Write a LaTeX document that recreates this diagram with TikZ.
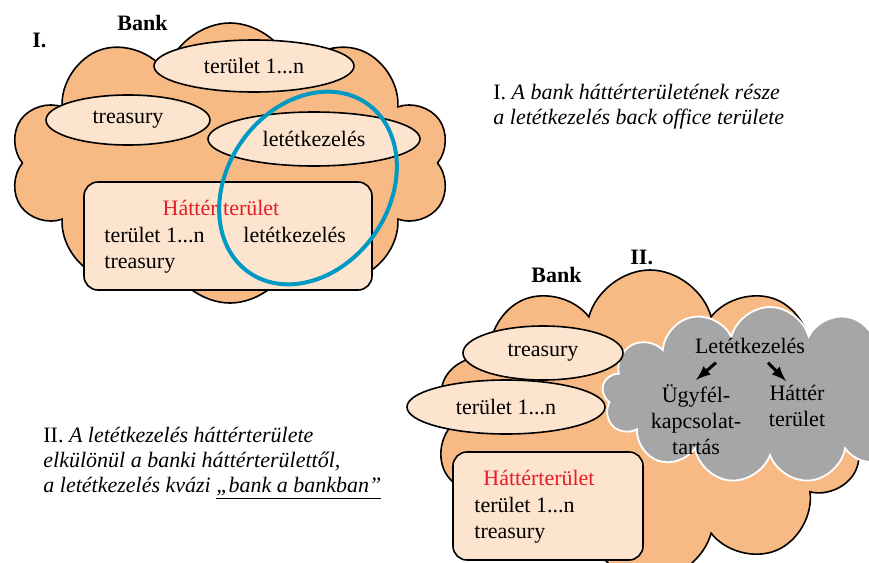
\documentclass[tikz,border=0pt]{standalone}
\usepackage{fontspec}
\setmainfont{Liberation Serif}
\usetikzlibrary{shapes.geometric, shapes.symbols, arrows}

\definecolor{bankorange}{RGB}{248,186,132}
\definecolor{areafill}{RGB}{252,228,206}
\definecolor{circleblue}{RGB}{0,153,196}
\definecolor{titlered}{RGB}{228,30,38}
\definecolor{depotgray}{RGB}{166,166,166}

\begin{document}
\begin{tikzpicture}[x=0.5pt, y=-0.5pt, font=\fontsize{11}{13}\selectfont,
    bankcloud/.style={cloud, cloud puffs=10, cloud ignores aspect, draw=black, line width=0.8pt, fill=bankorange},
    area/.style={ellipse, draw=black, line width=0.8pt, fill=areafill, inner sep=0pt},
    backbox/.style={rectangle, rounded corners=7pt, draw=black, line width=0.8pt, fill=areafill},
    txt/.style={inner sep=0pt, anchor=base west},
    heading/.style={inner sep=0pt, anchor=base west, font=\fontsize{11}{13}\selectfont\bfseries},
    note/.style={inner sep=0pt, anchor=north west, align=left, font=\fontsize{11}{12.5}\selectfont\itshape},
    pointer/.style={-latex, line width=1.5pt}]

        \useasboundingbox (0,0) rectangle (869,563);

        % I. bank
        \node (cloudI) [bankcloud, minimum width=220pt, minimum height=140pt] at (230,163) {};
        \node (unitsI) [area, minimum width=100pt, minimum height=26pt] at (254,66) {terület 1...n};
        \node (treasuryI) [area, minimum width=82pt, minimum height=25pt] at (128,120) {treasury};
        \node (depotI) [area, minimum width=106pt, minimum height=27pt] at (314,139) {letétkezelés};
        \node (backI) [backbox, minimum width=144pt, minimum height=54pt] at (228,236) {};
        \node (backtitleI) [txt, anchor=base, text=titlered] at (221,215) {Háttér terület};
        \node (backunitsI) [txt] at (104,242) {terület 1...n};
        \node (backdepotI) [txt] at (243,242) {letétkezelés};
        \node (backtreasuryI) [txt] at (104,268) {treasury};
        \node (focusI) [ellipse, draw=circleblue, line width=2pt, minimum width=81pt, minimum height=103pt, rotate=-35] at (308,188) {};
        \node (bankI) [heading] at (117,30) {Bank};
        \node (numI) [heading] at (32,47) {I.};

        % II. bank
        \node (cloudII) [bankcloud, minimum width=215pt, minimum height=155pt] at (650,425) {};
        \node (depotcloud) [cloud, cloud puffs=13, cloud ignores aspect, draw=white, line width=0.9pt, fill=depotgray, minimum width=168pt, minimum height=88pt] at (770,395) {};
        \node (treasuryII) [area, minimum width=80pt, minimum height=27pt] at (543,353) {treasury};
        \node (unitsII) [area, minimum width=99pt, minimum height=27pt] at (506,407) {terület 1...n};
        \node (backII) [backbox, minimum width=95pt, minimum height=54pt] at (548,506) {};
        \node (backtitleII) [txt, anchor=base, text=titlered] at (539,485) {Háttérterület};
        \node (backunitsII) [txt] at (474,512) {terület 1...n};
        \node (backtreasuryII) [txt] at (474,538) {treasury};
        \node (bankII) [heading] at (531,282) {Bank};
        \node (numII) [heading] at (630,264) {II.};

        \node (depot) [txt, anchor=base] at (750,353) {Letétkezelés};
        \node (client) [inner sep=0pt, align=center, anchor=north] at (696,384) {Ügyfél-\\kapcsolat-\\tartás};
        \node (back) [inner sep=0pt, align=center, anchor=north] at (797,385) {Háttér\\terület};
        \draw[pointer] ([xshift=-17pt,yshift=-4.5pt]depot.south) -- ([yshift=2pt]client.north);
        \draw[pointer] ([xshift=9pt,yshift=-4.5pt]depot.south) -- ([xshift=-5.5pt,yshift=2pt]back.north);

        % notes
        \node (noteI) [note] at (493,84) {{\upshape I.} A bank háttérterületének része\\a letétkezelés back office területe};
        \node (noteII) [note] at (43,427) {{\upshape II.} A letétkezelés háttérterülete\\elkülönül a banki háttérterülettől,\\a letétkezelés kvázi \underline{„bank a bankban”}};

\end{tikzpicture}
\end{document}
